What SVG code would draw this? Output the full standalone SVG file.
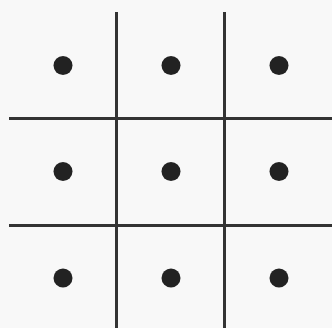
<svg xmlns="http://www.w3.org/2000/svg" width="332" height="328" viewBox="0 0 332 328">
<style>
.ln{stroke:#333;stroke-width:3;fill:none}
.dot{fill:#222}
</style>
<rect width="332" height="328" fill="#f8f8f8"/>
<g id="grid">
<line class="ln" x1="116.5" y1="12" x2="116.5" y2="328"/>
<line class="ln" x1="224.5" y1="12" x2="224.5" y2="328"/>
<line class="ln" x1="9" y1="118.5" x2="332" y2="118.5"/>
<line class="ln" x1="9" y1="225.5" x2="332" y2="225.5"/>
</g>
<g id="dots">
<circle class="dot" cx="63" cy="65.5" r="9.5"/>
<circle class="dot" cx="171" cy="65.5" r="9.5"/>
<circle class="dot" cx="279" cy="65.5" r="9.5"/>
<circle class="dot" cx="63" cy="171.5" r="9.5"/>
<circle class="dot" cx="171" cy="171.5" r="9.5"/>
<circle class="dot" cx="279" cy="171.5" r="9.5"/>
<circle class="dot" cx="63" cy="278" r="9.5"/>
<circle class="dot" cx="171" cy="278" r="9.5"/>
<circle class="dot" cx="279" cy="278" r="9.5"/>
</g>
</svg>
